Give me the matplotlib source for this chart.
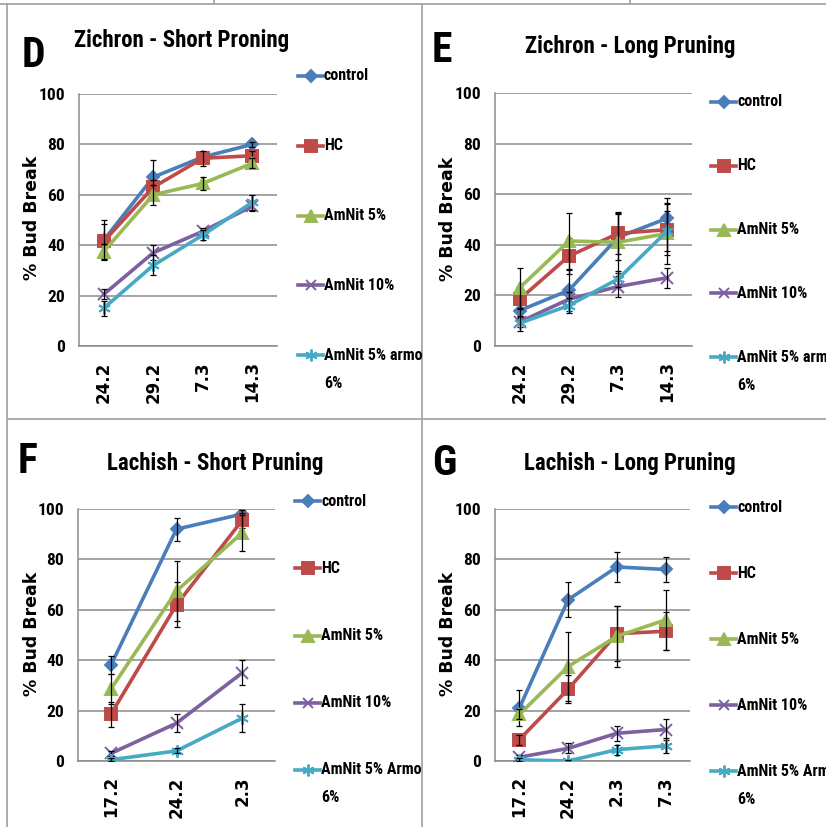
import numpy as np
import matplotlib
matplotlib.use('Agg')
import matplotlib.pyplot as plt
from matplotlib.lines import Line2D

W, H = 826, 827

series = ['control', 'HC', 'AmNit 5%', 'AmNit 10%', 'AmNit 5% armo']
colors = ['#4A7EBB', '#BE4B48', '#98B954', '#7D60A0', '#46AAC5']
markers = ['D', 's', '^', 'x', (6, 2, 0)]
msizes = [6.5, 8.5, 9, 8, 9]

# Zichron - short pruning
d_dates = ['24.2', '29.2', '7.3', '14.3']
d_means = [[42, 67, 75, 80],
           [41.5, 63, 74.5, 75.5],
           [37.5, 60, 64.5, 72.5],
           [20.5, 37, 45.5, 55.5],
           [15, 32, 44, 57]]
d_errs = [[8, 7, 2, 1],
          [7, 3, 3, 2],
          [3, 4, 2.5, 2],
          [2, 3, 1.5, 2],
          [3, 4, 2, 3]]

# Zichron - long pruning
e_dates = ['24.2', '29.2', '7.3', '14.3']
e_means = [[14, 22, 43, 50.5],
           [18.5, 35.5, 44.5, 46],
           [23, 41.5, 41, 44.5],
           [9.5, 18.5, 23.5, 27],
           [9, 16, 26.5, 45.5]]
e_errs = [[3, 8, 9, 8],
          [4, 7, 8, 10],
          [8, 11, 12, 12],
          [2, 3, 4, 4],
          [3, 3, 3, 8]]

# Lachish - short pruning
f_dates = ['17.2', '24.2', '2.3']
f_means = [[38, 92, 98],
           [18.5, 62, 95.5],
           [28.5, 67.5, 90.5],
           [3, 15, 35],
           [0.5, 4, 17]]
f_errs = [[3.5, 4.5, 1.5],
          [5, 9, 3],
          [6, 12, 7],
          [1, 3.5, 5],
          [0.5, 1, 5.5]]

# Lachish - long pruning
g_dates = ['17.2', '24.2', '2.3', '7.3']
g_means = [[21, 64, 77, 76],
           [8.5, 28.5, 50.5, 51.5],
           [18.5, 37.5, 49.5, 56],
           [1.5, 5, 11, 12.5],
           [0.5, 0, 4.5, 6]]
g_errs = [[7, 7, 6, 5],
          [2, 5.5, 11, 7.5],
          [2, 13.5, 12, 12],
          [1, 2, 3, 4],
          [0.5, 0.5, 2, 3]]

narrow = ['Roboto Condensed', 'DejaVu Sans']
nkw = dict(family=narrow, fontweight='bold', fontstretch='condensed')

fig = plt.figure(figsize=(W / 100, H / 100), dpi=100)


def fx(x):
    return x / W


def fy(y):
    return 1 - y / H


def panel(box, letter, letter_xy, title, title_xy, dates, means, errs,
          ylab_xy, leg_x, leg_top, leg_step, last_label):
    l, t, r, b = box
    ax = fig.add_axes([fx(l), fy(b), fx(r - l), (b - t) / H])
    x = np.arange(len(dates))
    for i in range(len(series)):
        ax.errorbar(x, means[i], yerr=errs[i], fmt='none', ecolor='black',
                    elinewidth=0.9, capsize=2.5, capthick=0.9, zorder=4 + i)
        ax.plot(x, means[i], color=colors[i], lw=2.6, marker=markers[i],
                ms=msizes[i], mfc=colors[i], mec=colors[i], mew=1.4,
                zorder=3.5 + i)
    ax.set_xlim(-0.5, len(dates) - 0.5)
    ax.set_ylim(0, 100)
    ax.set_yticks(range(0, 101, 20))
    ax.yaxis.grid(True, color='#8A8A8A', lw=1.1)
    ax.set_axisbelow(True)
    for s in ['top', 'right']:
        ax.spines[s].set_visible(False)
    for s in ['left', 'bottom']:
        ax.spines[s].set_color('#8A8A8A')
        ax.spines[s].set_linewidth(1.1)
    ax.set_xticks(x, dates, rotation=90, family='DejaVu Sans',
                  fontweight='bold', fontsize=12)
    ax.tick_params(axis='x', length=0, pad=11)
    ax.tick_params(axis='y', length=0, pad=10)
    for lab in ax.get_yticklabels():
        lab.set(fontsize=12.5, **nkw)

    fig.text(fx(letter_xy[0]), fy(letter_xy[1]), letter, fontsize=30,
             ha='left', va='baseline', **nkw)
    fig.text(fx(title_xy[0]), fy(title_xy[1]), title, fontsize=16.5,
             ha='center', va='baseline', **nkw)
    fig.text(fx(ylab_xy[0]), fy(ylab_xy[1]), '% Bud Break',
             family='DejaVu Sans', fontweight='bold', fontsize=12.5,
             rotation=90, ha='center', va='center')

    # legend entries spread down the right side
    labels = series[:-1] + [last_label]
    for i, lab in enumerate(labels):
        y = leg_top + i * leg_step
        x0, x1 = leg_x, leg_x + 25
        fig.add_artist(Line2D([fx(x0), fx((x0 + x1) / 2), fx(x1)],
                              [fy(y)] * 3, transform=fig.transFigure,
                              color=colors[i], lw=2.6, marker=markers[i],
                              ms=msizes[i] * 0.95, mfc=colors[i], mec=colors[i],
                              mew=1.4, markevery=[1]))
        fig.text(fx(x1 + 1), fy(y), lab, fontsize=11.5, ha='left',
                 va='center', **nkw)
    fig.text(fx(leg_x + 26), fy(leg_top + 4 * leg_step + 28), '6%',
             fontsize=11.5, ha='left', va='center', **nkw)
    return ax


panel((79, 94, 277, 346), 'D', (22, 67), 'Zichron - Short Proning', (182, 47),
      d_dates, d_means, d_errs, (32, 218), 298, 76, 69.75, 'AmNit 5% armo')
panel((495, 93, 692, 346), 'E', (432, 62), 'Zichron - Long Pruning', (630, 53),
      e_dates, e_means, e_errs, (448, 219), 711, 102, 63.75, 'AmNit 5% armo')
panel((78, 509, 275, 761), 'F', (18, 473), 'Lachish - Short Pruning', (215, 470),
      f_dates, f_means, f_errs, (32, 634), 295, 501, 67.25, 'AmNit 5% Armo')
panel((495, 509, 690, 761), 'G', (432, 475), 'Lachish - Long Pruning', (630, 470),
      g_dates, g_means, g_errs, (448, 634), 711, 507, 66, 'AmNit 5% Armo')

# table borders around the four panels
border = dict(color='#A6A6A6', lw=1.3, transform=fig.transFigure)
for xs, ys in [((0, W), (4, 4)), ((214, 214), (0, 4)), ((630, 630), (0, 4)),
               ((6.5, 6.5), (4, H)), ((422, 422), (4, H)), ((6.5, W), (419, 419))]:
    fig.add_artist(Line2D([fx(v) for v in xs], [fy(v) for v in ys], **border))

fig.savefig('out.png', dpi=100)
